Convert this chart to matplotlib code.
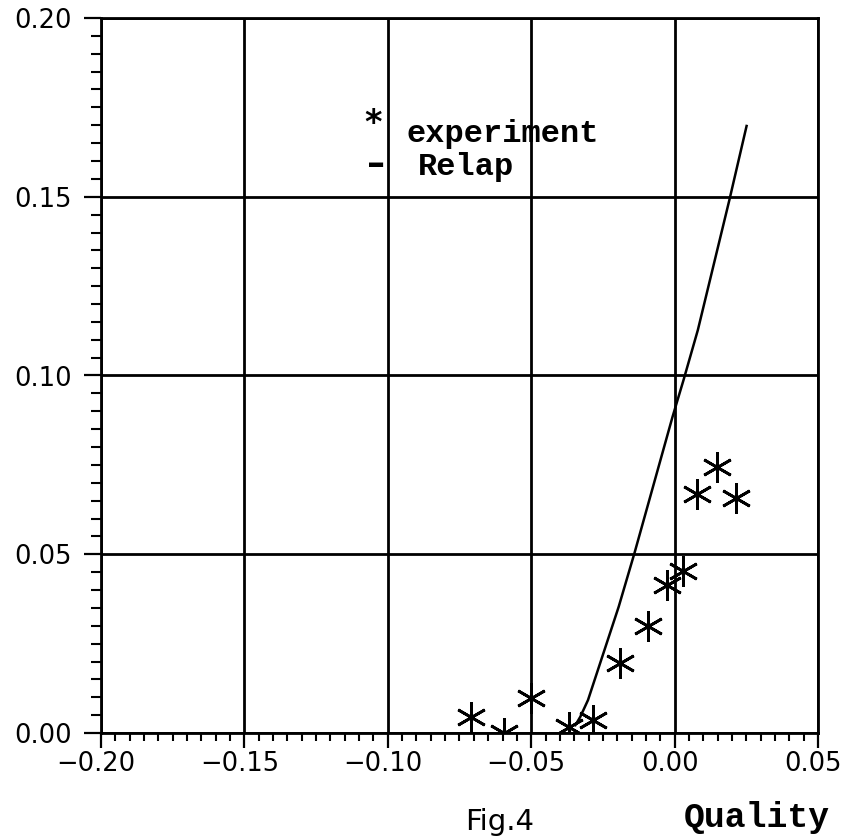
import matplotlib.pyplot as plt
from matplotlib.ticker import MultipleLocator, FuncFormatter
from matplotlib.transforms import ScaledTranslation

# experiment points (quality, value)
exp_x = [-0.071, -0.0596, -0.0500, -0.0369, -0.0285, -0.0189, -0.0094,
         -0.0028, 0.0029, 0.0078, 0.0149, 0.0214]
exp_y = [0.0046, 0.0000, 0.0097, 0.0018, 0.0036, 0.0197, 0.0299,
         0.0414, 0.0454, 0.0668, 0.0745, 0.0656]

# Relap curve
relap_x = [-0.0346, -0.0329, -0.0302, -0.0195, -0.0140, -0.0007, 0.0031,
           0.0081, 0.0191, 0.0251]
relap_y = [0.0022, 0.0045, 0.0092, 0.0353, 0.0503, 0.0885, 0.0987,
           0.1127, 0.1491, 0.1698]

xticks = [-0.20, -0.15, -0.10, -0.05, 0.00, 0.05]
yticks = [0.00, 0.05, 0.10, 0.15, 0.20]


def fmt(v, pos):
    s = '%.2f' % v
    if s == '-0.00':
        s = '0.00'
    return s.replace('-', '\u2212')


fig = plt.figure(figsize=(8.45, 8.38), dpi=100)
ax = fig.add_axes([101/845, 105/838, 717/845, 715/838])

ax.plot(relap_x, relap_y, '-', color='black', linewidth=1.8)
ax.plot(exp_x, exp_y, linestyle='none', marker=(6, 2, 0), markersize=22,
        markeredgewidth=2.0, color='black')

ax.set_xlim(-0.20, 0.05)
ax.set_ylim(0.0, 0.20)
ax.set_xticks(xticks)
ax.set_yticks(yticks)
ax.xaxis.set_major_formatter(FuncFormatter(fmt))
ax.yaxis.set_major_formatter(FuncFormatter(fmt))
ax.xaxis.set_minor_locator(MultipleLocator(0.005))
ax.yaxis.set_minor_locator(MultipleLocator(0.005))

ax.tick_params(axis='both', which='major', direction='out', width=1.6,
               labelsize=18.5, color='black')
ax.tick_params(axis='x', which='major', length=11, pad=2)
ax.tick_params(axis='y', which='major', length=12, pad=9)
ax.tick_params(axis='x', which='minor', direction='out', length=6, width=1.5)
ax.tick_params(axis='y', which='minor', direction='out', length=7, width=1.5)

# x labels sit a little left of their ticks in the original
shift = ScaledTranslation(-5/100, 0, fig.dpi_scale_trans)
for lab in ax.get_xticklabels():
    lab.set_transform(lab.get_transform() + shift)

for s in ax.spines.values():
    s.set_linewidth(2.0)
ax.grid(True, which='major', color='black', linewidth=2.0)
ax.set_axisbelow(True)

# legend written as text, like in the original
ax.text(0.379, 0.853, '*', transform=ax.transAxes, fontsize=24,
        fontweight='bold', ha='center', va='center', family='DejaVu Sans')
ax.text(0.426, 0.827, 'experiment', transform=ax.transAxes, fontsize=23,
        fontweight='bold', family='Liberation Mono', ha='left', va='baseline')
ax.text(0.384, 0.795, '\u2013', transform=ax.transAxes, fontsize=26,
        fontweight='bold', ha='center', va='center', family='DejaVu Sans')
ax.text(0.442, 0.780, 'Relap', transform=ax.transAxes, fontsize=23,
        fontweight='bold', family='Liberation Mono', ha='left', va='baseline')

fig.text(830/845, 1 - 827/838, 'Quality', fontsize=25, fontweight='bold',
         family='Liberation Mono', ha='right', va='baseline')
fig.text(500/845, 2/838, 'Fig.4', fontsize=21, family='DejaVu Sans',
         ha='center', va='bottom')

plt.savefig('out.png', dpi=100)
